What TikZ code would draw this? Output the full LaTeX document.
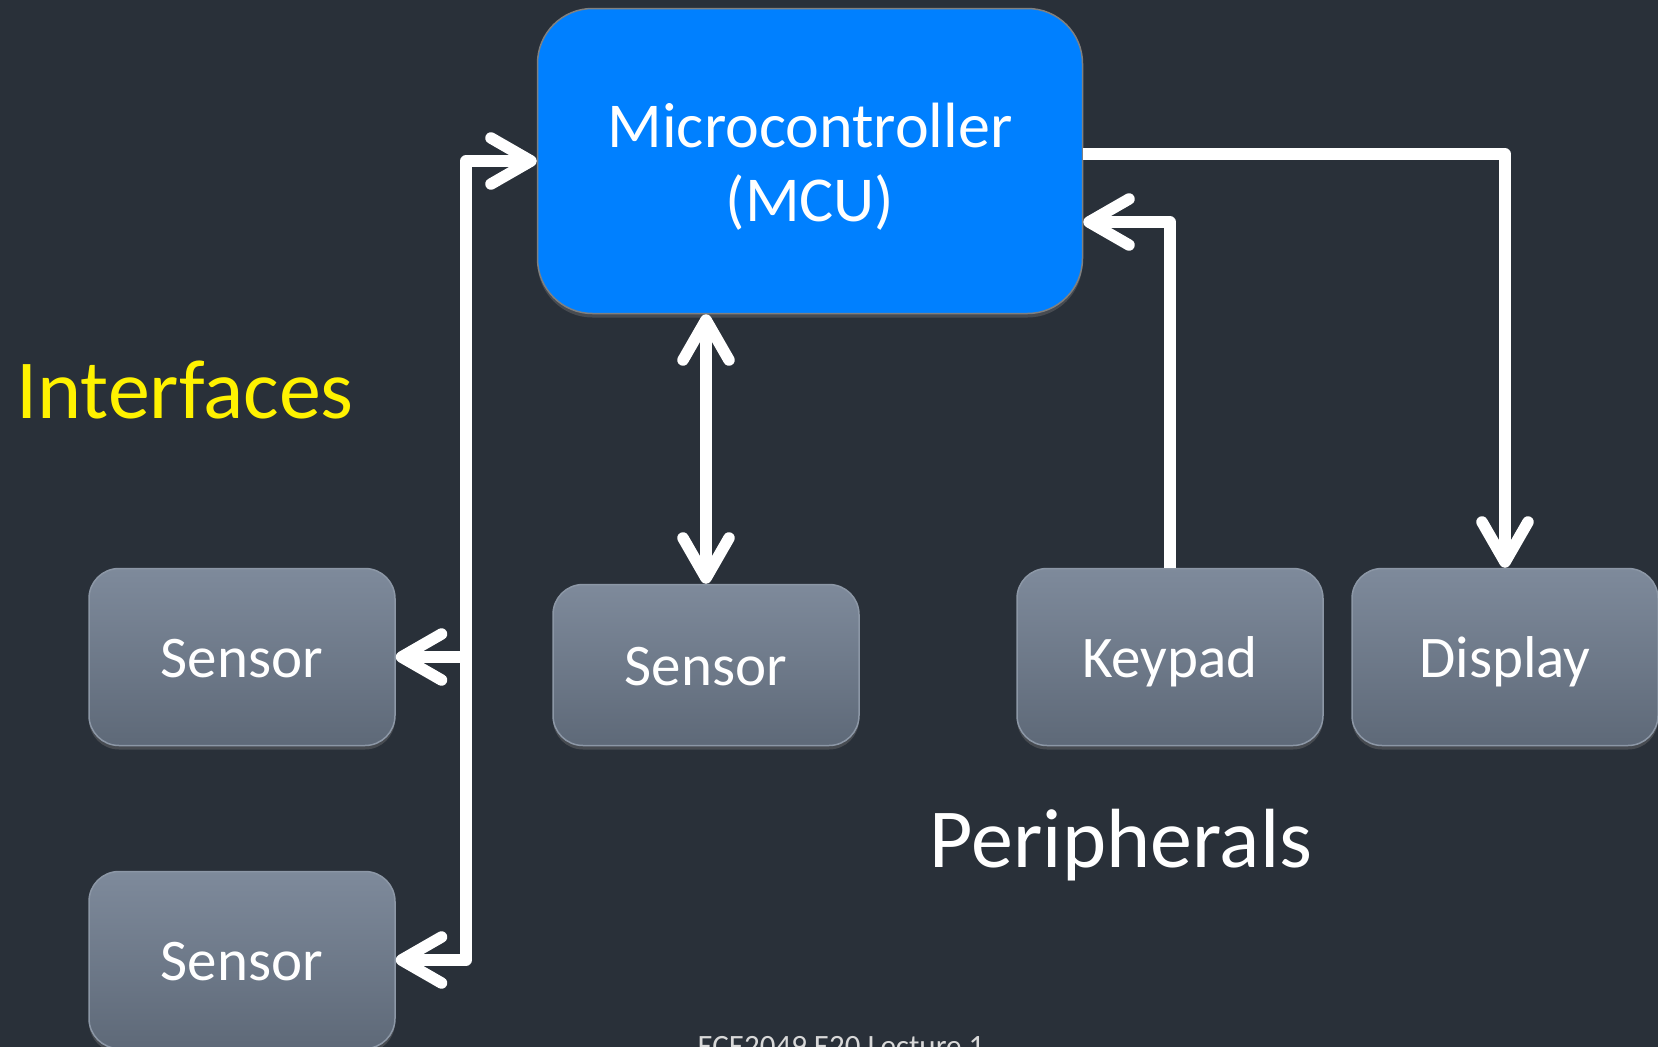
\documentclass[tikz,border=0pt]{standalone}
\usepackage{fontspec}
\setmainfont{Carlito}
\usetikzlibrary{arrows.meta,shadows}

\definecolor{bgslate}{RGB}{41,48,57}
\definecolor{mcublue}{RGB}{0,128,255}
\definecolor{boxtop}{RGB}{126,138,155}
\definecolor{boxbottom}{RGB}{94,105,120}
\definecolor{boxedge}{RGB}{140,151,166}
\definecolor{footgray}{RGB}{217,217,217}

\tikzset{
  unitbox/.style={rounded corners=30pt, minimum width=306pt, minimum height=177pt,
    top color=boxtop, bottom color=boxbottom, draw=boxedge, line width=1.5pt,
    text=white, font=\fontsize{59}{70}\selectfont, text height=40pt, text depth=0pt,
    drop shadow={opacity=0.35, shadow xshift=0pt, shadow yshift=-4pt}},
  mcubox/.style={rounded corners=55pt, minimum width=545pt, minimum height=305pt,
    fill=mcublue, draw=gray, line width=1.5pt,
    drop shadow={opacity=0.35, shadow xshift=0pt, shadow yshift=-4pt}},
  mcutext/.style={text=white, align=center, font=\fontsize{64}{74}\selectfont},
  link/.style={draw=white, line width=11.5pt, line join=round},
  >={Straight Barb[length=40pt, width=46pt, round]},
  caption/.style={anchor=base, font=\fontsize{84}{100}\selectfont}
}

\begin{document}
\begin{tikzpicture}[x=1pt, y=-1pt]
  % page and background
  \useasboundingbox (0,0) rectangle (1658,1047);
  \clip (0,0) rectangle (1658,1047);
  \fill[bgslate] (0,0) rectangle (1658,1047);

  % blocks
  \node[mcubox] (mcu) at (810,161) {};
  \node[mcutext] (mcutxt) at ([yshift=-6pt]mcu.center) {Microcontroller\\(MCU)};
  \node[unitbox] (s1) at (242,657) {Sensor};
  \node[unitbox] (s2) at (242,960) {Sensor};
  \node[unitbox, minimum height=161pt] (s3) at (706,665) {Sensor};
  \node[unitbox] (kp) at (1170,657) {Keypad};
  \node[unitbox] (disp) at (1505,657) {Display};

  % group captions
  \node[caption, text=yellow] (ifc) at (185,418) {Interfaces};
  \node[caption, text=white] (per) at (1121,867) {Peripherals};
  \node[anchor=base, text=footgray, font=\fontsize{31}{37}\selectfont] (foot) at (841,1056) {ECE2049 E20 Lecture 1};

  % interface bus on the left
  \coordinate (bus) at (466,161);
  \draw[link, <->] (mcu.west) -- (bus) |- (s2.east);
  \draw[link, ->] (bus |- s1.east) -- (s1.east);

  % direct sensor link
  \draw[link, <->] (mcu.south -| s3.north) -- (s3.north);

  % peripherals
  \draw[link, ->] ([yshift=7pt]mcu.east) -| (disp.north);
  \draw[link, ->] (kp.north) |- ([yshift=-61pt]mcu.east);
\end{tikzpicture}
\end{document}
